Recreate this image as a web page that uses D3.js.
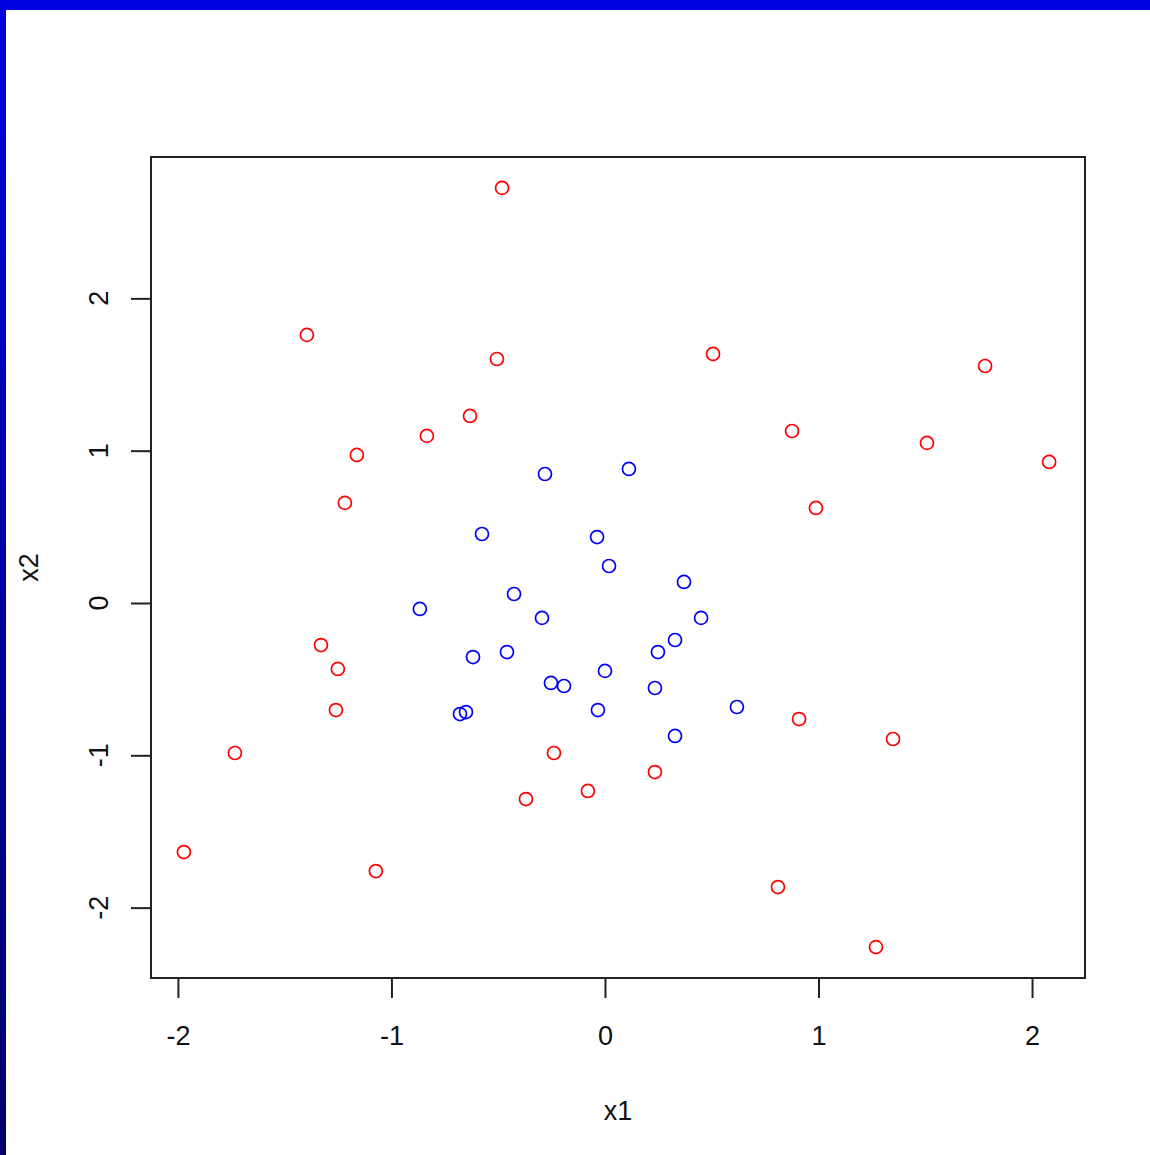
<!doctype html>
<html lang="en">
<head>
  <meta charset="utf-8">
  <title>x1 vs x2</title>
  <style>
    body { margin: 0; background: #fff; }
  </style>
</head>
<body>
<div id="mychart"></div>
<script src="https://d3js.org/d3.v7.min.js"></script>
<script>
var width = 1150;
var height = 1155;

// red class
var redX = [-0.482, -1.396, -0.506, 0.506, 1.780, -0.632, -0.834, -1.162, 0.876, 1.508,
            2.080, -1.218, 0.988, -1.330, -1.251, -1.260, -1.733, -0.239, -0.370, -0.080,
            0.234, 0.909, 1.349, -1.972, -1.073, 0.810, 1.269];
var redY = [2.725, 1.760, 1.602, 1.635, 1.556, 1.228, 1.097, 0.972, 1.129, 1.051,
            0.926, 0.657, 0.624, -0.276, -0.433, -0.703, -0.985, -0.985, -1.287, -1.234,
            -1.110, -0.762, -0.893, -1.635, -1.760, -1.865, -2.259];

// blue class
var blueX = [-0.281, 0.112, -0.576, -0.037, 0.019, 0.370, -0.867, -0.426, -0.295, 0.450,
             0.328, 0.248, -0.618, -0.459, 0.000, -0.253, -0.192, 0.234, -0.033, 0.618,
             -0.651, -0.679, 0.328];
var blueY = [0.847, 0.880, 0.453, 0.433, 0.243, 0.138, -0.039, 0.059, -0.098, -0.098,
             -0.243, -0.322, -0.355, -0.322, -0.446, -0.525, -0.545, -0.558, -0.703, -0.683,
             -0.716, -0.729, -0.873];

var xTicks = [-2, -1, 0, 1, 2];
var yTicks = [-2, -1, 0, 1, 2];

var svg = d3.select("#mychart").append("svg")
  .attr("width", width)
  .attr("height", height);

// slide border
var grad = svg.append("defs").append("linearGradient")
  .attr("id", "edge").attr("x1", 0).attr("y1", 0).attr("x2", 0).attr("y2", 1);
grad.append("stop").attr("offset", "0%").attr("stop-color", "#0000e0");
grad.append("stop").attr("offset", "100%").attr("stop-color", "#000068");

svg.append("rect").attr("x", 0).attr("y", 0).attr("width", width).attr("height", 10)
  .attr("fill", "#0000e0");
svg.append("rect").attr("x", 0).attr("y", 0).attr("width", 6).attr("height", height)
  .attr("fill", "url(#edge)");

var boxL = 151, boxR = 1085, boxT = 157, boxB = 978;

var x = d3.scaleLinear()
  .domain([-2.126, 2.248])
  .range([boxL, boxR]);

var y = d3.scaleLinear()
  .domain([-2.462, 2.928])
  .range([boxB, boxT]);

var font = "'Liberation Sans', Arial, sans-serif";

var xAxis = svg.append("g")
  .attr("transform", "translate(0," + boxB + ")")
  .call(d3.axisBottom(x).tickValues(xTicks).tickSize(20).tickPadding(28)
        .tickFormat(function(d) { return d < 0 ? "-" + Math.abs(d) : d; }));
xAxis.select(".domain").remove();
xAxis.selectAll("line").attr("stroke", "#222").attr("stroke-width", 2);
xAxis.selectAll("text").attr("font-family", font).attr("font-size", 27).attr("fill", "#111");

var yAxis = svg.append("g")
  .attr("transform", "translate(" + boxL + ",0)")
  .call(d3.axisLeft(y).tickValues(yTicks).tickSize(20).tickFormat(""));
yAxis.select(".domain").remove();
yAxis.selectAll("line").attr("stroke", "#222").attr("stroke-width", 2);

svg.selectAll("text.ylab").data(yTicks).enter()
  .append("text")
  .attr("class", "ylab")
  .attr("transform", function(d) { return "translate(108," + y(d) + ") rotate(-90)"; })
  .attr("text-anchor", "middle")
  .attr("font-family", font).attr("font-size", 27).attr("fill", "#111")
  .text(function(d) { return d < 0 ? "-" + Math.abs(d) : d; });

// box
svg.append("rect")
  .attr("x", boxL).attr("y", boxT)
  .attr("width", boxR - boxL).attr("height", boxB - boxT)
  .attr("fill", "none").attr("stroke", "#222").attr("stroke-width", 2);

svg.append("text")
  .attr("x", (boxL + boxR) / 2).attr("y", 1120)
  .attr("text-anchor", "middle")
  .attr("font-family", font).attr("font-size", 27).attr("fill", "#111")
  .text("x1");

svg.append("text")
  .attr("transform", "translate(38," + (boxT + boxB) / 2 + ") rotate(-90)")
  .attr("text-anchor", "middle")
  .attr("font-family", font).attr("font-size", 27).attr("fill", "#111")
  .text("x2");

var renderCircles = function(xs, ys, color) {
  svg.append("g").selectAll("circle").data(xs)
    .enter()
    .append("circle")
    .attr("r", 6.5)
    .attr("cx", function(d) { return x(d); })
    .attr("cy", function(d, i) { return y(ys[i]); })
    .attr("fill", "none")
    .attr("stroke", color)
    .attr("stroke-width", 1.7);
};
renderCircles(redX, redY, "#ff0000");
renderCircles(blueX, blueY, "#0000ff");
</script>
</body>
</html>
